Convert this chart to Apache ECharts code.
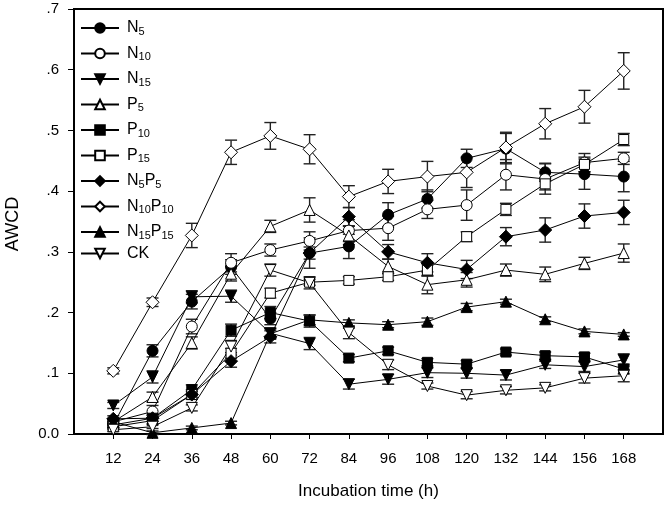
<!DOCTYPE html>
<html>
<head>
<meta charset="utf-8">
<script src="https://cdn.jsdelivr.net/npm/echarts@6/dist/echarts.min.js"></script>
<style>html,body{margin:0;padding:0;background:#fff}#c{width:669px;height:508px}</style>
</head>
<body>
<div id="c"></div>
<script>
// ---- data ----
const hours = [12, 24, 36, 48, 60, 72, 84, 96, 108, 120, 132, 144, 156, 168];
const yTicks = [0, 0.1, 0.2, 0.3, 0.4, 0.5, 0.6, 0.7];

const N5     = [0.015, 0.137, 0.218, 0.275, 0.190, 0.298, 0.309, 0.361, 0.387, 0.454, 0.470, 0.431, 0.428, 0.424];
const N10    = [0.020, 0.037, 0.177, 0.282, 0.303, 0.318, 0.335, 0.339, 0.370, 0.377, 0.427, 0.420, 0.447, 0.454];
const N15    = [0.047, 0.094, 0.226, 0.227, 0.166, 0.149, 0.082, 0.090, 0.101, 0.100, 0.097, 0.114, 0.111, 0.122];
const P5     = [0.020, 0.061, 0.150, 0.264, 0.342, 0.369, 0.327, 0.276, 0.246, 0.254, 0.270, 0.263, 0.281, 0.298];
const P10    = [0.015, 0.026, 0.073, 0.171, 0.200, 0.186, 0.125, 0.137, 0.118, 0.115, 0.135, 0.129, 0.127, 0.107];
const P15    = [0.012, 0.022, 0.065, 0.133, 0.232, 0.250, 0.253, 0.259, 0.270, 0.325, 0.370, 0.412, 0.444, 0.485];
const N5P5   = [0.025, 0.026, 0.065, 0.120, 0.160, 0.298, 0.358, 0.300, 0.282, 0.271, 0.325, 0.336, 0.359, 0.365];
const N10P10 = [0.104, 0.217, 0.327, 0.464, 0.491, 0.469, 0.391, 0.416, 0.424, 0.431, 0.472, 0.511, 0.539, 0.598];
const N15P15 = [0.020, 0.002, 0.010, 0.018, 0.165, 0.188, 0.183, 0.180, 0.185, 0.209, 0.218, 0.189, 0.169, 0.164];
const CK     = [0.007, 0.012, 0.043, 0.144, 0.270, 0.249, 0.167, 0.114, 0.079, 0.064, 0.072, 0.076, 0.092, 0.096];

const N5_err     = [0.005, 0.010, 0.012, 0.012, 0.010, 0.025, 0.020, 0.020, 0.015, 0.015, 0.025, 0.015, 0.025, 0.025];
const N10_err    = [0.005, 0.010, 0.012, 0.015, 0.010, 0.015, 0.018, 0.020, 0.015, 0.025, 0.025, 0.025, 0.015, 0.010];
const N15_err    = [0.005, 0.010, 0.010, 0.010, 0.008, 0.010, 0.008, 0.008, 0.008, 0.008, 0.008, 0.006, 0.008, 0.010];
const P5_err     = [0.005, 0.008, 0.010, 0.012, 0.010, 0.020, 0.015, 0.012, 0.015, 0.012, 0.010, 0.012, 0.010, 0.015];
const P10_err    = [0.005, 0.005, 0.008, 0.010, 0.010, 0.010, 0.006, 0.006, 0.006, 0.006, 0.005, 0.006, 0.006, 0.008];
const P15_err    = [0.005, 0.005, 0.005, 0.008, 0.008, 0.005, 0.006, 0.006, 0.010, 0.008, 0.010, 0.010, 0.012, 0.010];
const N5P5_err   = [0.005, 0.005, 0.008, 0.010, 0.010, 0.010, 0.015, 0.012, 0.015, 0.015, 0.015, 0.020, 0.020, 0.020];
const N10P10_err = [0.005, 0.007, 0.020, 0.020, 0.022, 0.024, 0.018, 0.020, 0.025, 0.025, 0.025, 0.025, 0.027, 0.030];
const N15P15_err = [0.003, 0.003, 0.003, 0.003, 0.008, 0.008, 0.005, 0.005, 0.006, 0.006, 0.004, 0.004, 0.004, 0.003];
const CK_err     = [0.003, 0.003, 0.005, 0.010, 0.010, 0.010, 0.010, 0.008, 0.005, 0.006, 0.006, 0.005, 0.008, 0.010];

const names = ['N5', 'N10', 'N15', 'P5', 'P10', 'P15', 'N5P5', 'N10P10', 'N15P15', 'CK'];
const labels = {
  N5: '{m|N}{s|5}', N10: '{m|N}{s|10}', N15: '{m|N}{s|15}',
  P5: '{m|P}{s|5}', P10: '{m|P}{s|10}', P15: '{m|P}{s|15}',
  N5P5: '{m|N}{s|5}{m|P}{s|5}', N10P10: '{m|N}{s|10}{m|P}{s|10}', N15P15: '{m|N}{s|15}{m|P}{s|15}',
  CK: '{m|CK}'
};
const values = {N5, N10, N15, P5, P10, P15, N5P5, N10P10, N15P15, CK};
const errs = {N5: N5_err, N10: N10_err, N15: N15_err, P5: P5_err, P10: P10_err, P15: P15_err,
  N5P5: N5P5_err, N10P10: N10P10_err, N15P15: N15P15_err, CK: CK_err};

// ---- styles ----
const markers = {
  N5: {symbol: 'circle', size: 11, fill: '#000', rot: 0},
  N10: {symbol: 'circle', size: 11, fill: '#fff', rot: 0},
  N15: {symbol: 'triangle', size: 11, fill: '#000', rot: 180},
  P5: {symbol: 'triangle', size: 11, fill: '#fff', rot: 0},
  P10: {symbol: 'rect', size: 10, fill: '#000', rot: 0},
  P15: {symbol: 'rect', size: 10, fill: '#fff', rot: 0},
  N5P5: {symbol: 'diamond', size: 13, fill: '#000', rot: 0},
  N10P10: {symbol: 'diamond', size: 13, fill: '#fff', rot: 0},
  N15P15: {symbol: 'triangle', size: 11, fill: '#000', rot: 0},
  CK: {symbol: 'triangle', size: 11, fill: '#fff', rot: 180}
};

const FONT = '"Liberation Sans", Arial, sans-serif';
const series = [];
names.forEach(function (n) {
  series.push({
    name: n + '_err', type: 'custom', z: 2, silent: true,
    data: hours.map(function (h, i) { return [h, values[n][i], errs[n][i]]; }),
    renderItem: function (params, api) {
      const x = api.value(0), y = api.value(1), e = api.value(2);
      const t = api.coord([x, y + e]), b = api.coord([x, y - e]);
      const w = 6;
      const st = {stroke: '#222', lineWidth: 1.4};
      return {type: 'group', children: [
        {type: 'line', shape: {x1: t[0], y1: t[1], x2: b[0], y2: b[1]}, style: st},
        {type: 'line', shape: {x1: t[0] - w, y1: t[1], x2: t[0] + w, y2: t[1]}, style: st},
        {type: 'line', shape: {x1: b[0] - w, y1: b[1], x2: b[0] + w, y2: b[1]}, style: st}
      ]};
    }
  });
});
names.forEach(function (n) {
  const m = markers[n];
  series.push({
    name: n, type: 'line', z: 3,
    data: hours.map(function (h, i) { return [h, values[n][i]]; }),
    symbol: m.symbol, symbolSize: m.size, symbolRotate: m.rot, showAllSymbol: true,
    lineStyle: {color: '#000', width: 1},
    itemStyle: {color: m.fill, borderColor: '#000', borderWidth: 1, opacity: 1},
    emphasis: {disabled: true},
    animation: false
  });
});

const chart = echarts.init(document.getElementById('c'), null, {renderer: 'canvas'});
chart.setOption({
  animation: false,
  backgroundColor: '#fff',
  grid: {left: 74, right: 6, top: 9, bottom: 74, show: true, borderColor: '#000', borderWidth: 2, backgroundColor: 'transparent'},
  xAxis: {
    type: 'value', min: 0, max: 180, interval: 12,
    name: 'Incubation time (h)', nameLocation: 'middle', nameGap: 49,
    nameTextStyle: {fontFamily: FONT, fontSize: 17, color: '#000'},
    axisLine: {lineStyle: {color: '#000', width: 2}},
    axisTick: {length: 5, lineStyle: {color: '#000', width: 1}, customValues: hours},
    axisLabel: {margin: 17, fontFamily: FONT, fontSize: 15, color: '#000', customValues: hours},
    splitLine: {show: false}
  },
  yAxis: {
    type: 'value', min: 0, max: 0.7, interval: 0.1,
    axisLine: {show: true, lineStyle: {color: '#000', width: 2}},
    axisTick: {show: true, length: 6, lineStyle: {color: '#000', width: 1}},
    axisLabel: {margin: 15, fontFamily: FONT, fontSize: 15, color: '#000',
      formatter: function (v) { const k = Math.round(v * 10); return k === 0 ? '0.0' : '.' + k; }},
    splitLine: {show: false}
  },
  legend: {
    data: names, orient: 'vertical', left: 80, top: 16, padding: 0,
    itemWidth: 38, itemHeight: 12, itemGap: 4.5,
    formatter: function (n) { return labels[n]; },
    textStyle: {
      fontFamily: FONT, color: '#000', padding: [0, 0, 0, 3],
      rich: {
        m: {fontFamily: FONT, fontSize: 16, color: '#000', lineHeight: 18, verticalAlign: 'middle'},
        s: {fontFamily: FONT, fontSize: 11, color: '#000', lineHeight: 18, verticalAlign: 'bottom', padding: [10, 0, 0, 0]}
      }
    },
    selectedMode: false
  },
  graphic: [{
    type: 'text', x: 13, y: 224, rotation: Math.PI / 2,
    style: {text: 'AWCD', fontFamily: FONT, fontSize: 18, fill: '#000', align: 'center', verticalAlign: 'middle'}
  }],
  series: series
});
</script>
</body>
</html>
